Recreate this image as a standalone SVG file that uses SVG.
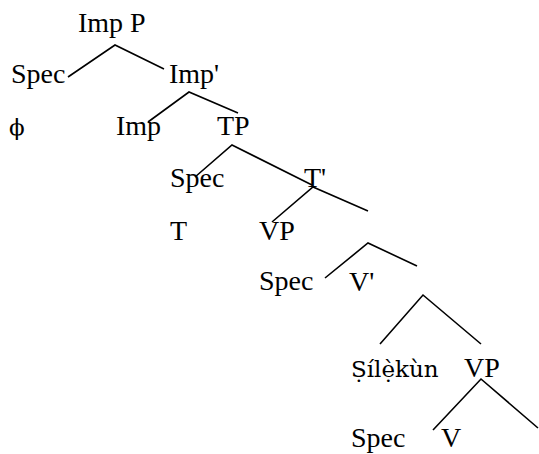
<svg xmlns="http://www.w3.org/2000/svg" width="539" height="454" viewBox="0 0 539 454">
  <style>
    .edge { stroke: #000; stroke-width: 1.6; fill: none; }
    .lbl { font-family: "Liberation Serif", serif; font-size: 28px; fill: #000; }
    .ext { font-family: "DejaVu Serif", serif; font-size: 23px; fill: #000; }
  </style>
  <rect width="539" height="454" fill="#fff"/>

  <!-- branch lines of the tree -->
  <g id="connectors">
    <path class="edge" d="M68,77 L115,45 L164,69"/>
    <path class="edge" d="M148,122 L189,92 L238,113"/>
    <path class="edge" d="M195,177 L232,145 L312,185"/>
    <path class="edge" d="M272,222 L313,187 L368,211"/>
    <path class="edge" d="M325,278 L368,243 L417,266"/>
    <path class="edge" d="M380,344 L423,295 L481,344"/>
    <path class="edge" d="M433,430 L481,379 L538,428"/>
  </g>

  <!-- node labels -->
  <g id="impP"><text class="lbl" x="78" y="32">Imp P</text></g>
  <g id="spec1"><text class="lbl" x="11" y="83">Spec</text></g>
  <g id="impBar"><text class="lbl" x="169" y="83">Imp'</text></g>
  <g id="phi"><text class="ext" x="9" y="135">ϕ</text></g>
  <g id="imp"><text class="lbl" x="116" y="135">Imp</text></g>
  <g id="tp"><text class="lbl" x="217" y="135">TP</text></g>
  <g id="spec2"><text class="lbl" x="170" y="187">Spec</text></g>
  <g id="tBar"><text class="lbl" x="304" y="187">T'</text></g>
  <g id="t"><text class="lbl" x="170" y="240">T</text></g>
  <g id="vp1"><text class="lbl" x="259" y="240">VP</text></g>
  <g id="spec3"><text class="lbl" x="259" y="290">Spec</text></g>
  <g id="vBar"><text class="lbl" x="349" y="291">V'</text></g>
  <g id="silekun"><text class="ext" x="351" y="377">Ṣílẹ̀kùn</text></g>
  <g id="vp2"><text class="lbl" x="464" y="377">VP</text></g>
  <g id="spec4"><text class="lbl" x="351" y="447">Spec</text></g>
  <g id="v"><text class="lbl" x="441" y="447">V</text></g>
</svg>
